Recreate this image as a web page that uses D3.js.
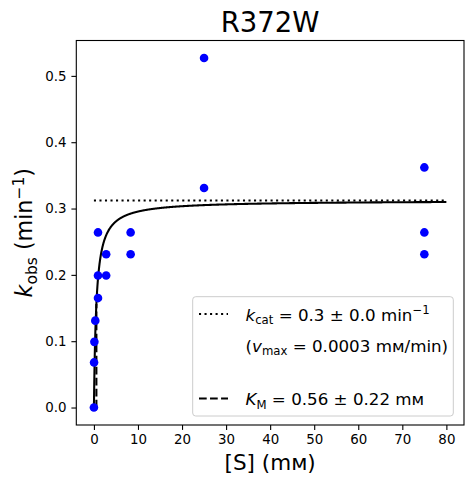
<!DOCTYPE html>
<html>
<head>
<meta charset="utf-8">
<script src="https://cdn.jsdelivr.net/npm/d3@7.9.0/dist/d3.min.js"></script>
<style>
  body { margin: 0; background: #fff; }
  svg { font-family: 'DejaVu Sans', sans-serif; }
</style>
</head>
<body>
<div id="chart"></div>
<script>
// measured substrate concentrations (mM) and observed rates (min^-1)
const substrate = [0, 0.034, 0.103, 0.309, 0.926, 0.926, 0.926, 2.78, 2.78, 8.33, 8.33, 25, 25, 75, 75, 75];
const kobs = [0, 0.068, 0.099, 0.131, 0.165, 0.199, 0.264, 0.199, 0.231, 0.231, 0.264, 0.331, 0.527, 0.231, 0.264, 0.362];

// fitted Michaelis-Menten parameters
const kcat = 0.312;
const km = 0.56;
const fitRange = [0, 80];

const xTicks = [0, 10, 20, 30, 40, 50, 60, 70, 80];
const yTicks = [0, 0.1, 0.2, 0.3, 0.4, 0.5];

const width = 473, height = 484;
const plot = { left: 76.3, right: 464, top: 40.5, bottom: 425 };

const svg = d3.select('#chart').append('svg')
    .attr('width', width)
    .attr('height', height);

const xPad = (d3.max(substrate.concat(fitRange)) - 0) * 0.05;
const xScale = d3.scaleLinear()
    .domain([0 - xPad, 80 + xPad])
    .range([plot.left, plot.right]);

const yMax = d3.max(kobs);
const yPad = yMax * 0.05;
const yScale = d3.scaleLinear()
    .domain([-yPad, yMax + yPad])
    .range([plot.bottom, plot.top]);

const g = svg.append('g');

// clip to axes
svg.append('clipPath').attr('id', 'clip')
    .append('rect')
    .attr('x', plot.left).attr('y', plot.top)
    .attr('width', plot.right - plot.left)
    .attr('height', plot.bottom - plot.top);

const inner = g.append('g').attr('clip-path', 'url(#clip)');

// fit curve
const curveS = d3.range(0, 1001).map(i => fitRange[0] + (fitRange[1] - fitRange[0]) * Math.pow(i / 1000, 2));
const line = d3.line()
    .x(d => xScale(d))
    .y(d => yScale(kcat * d / (km + d)));

inner.append('path')
    .datum(curveS)
    .attr('d', line)
    .attr('fill', 'none')
    .attr('stroke', '#000')
    .attr('stroke-width', 2.08);

// kcat dotted line
inner.append('line')
    .attr('x1', xScale(fitRange[0])).attr('x2', xScale(fitRange[1]))
    .attr('y1', yScale(kcat)).attr('y2', yScale(kcat))
    .attr('stroke', '#000')
    .attr('stroke-width', 2.08)
    .attr('stroke-dasharray', '2.08 3.44');

// Km dashed line
inner.append('line')
    .attr('x1', xScale(km)).attr('x2', xScale(km))
    .attr('y1', yScale(0)).attr('y2', yScale(kcat / 2))
    .attr('stroke', '#000')
    .attr('stroke-width', 2.08)
    .attr('stroke-dasharray', '7.7 3.33');

// data points
inner.append('g')
    .selectAll('circle')
    .data(substrate.map((s, i) => [s, kobs[i]]))
    .join('circle')
    .attr('cx', d => xScale(d[0]))
    .attr('cy', d => yScale(d[1]))
    .attr('r', 4.3)
    .attr('fill', '#0000ff');

// axes
const xAxis = d3.axisBottom(xScale).tickValues(xTicks).tickSize(4.9).tickPadding(4.9).tickFormat(d3.format('d'));
const yAxis = d3.axisLeft(yScale).tickValues(yTicks).tickSize(4.9).tickPadding(4.9).tickFormat(d3.format('.1f'));

const gx = g.append('g').attr('transform', `translate(0,${plot.bottom})`).call(xAxis);
const gy = g.append('g').attr('transform', `translate(${plot.left},0)`).call(yAxis);
[gx, gy].forEach(ax => {
    ax.select('.domain').remove();
    ax.selectAll('line').attr('stroke', '#000').attr('stroke-width', 1.1);
    ax.selectAll('text').attr('font-size', 13.4).attr('fill', '#000')
        .attr('font-family', 'DejaVu Sans');
});

// frame
g.append('rect')
    .attr('x', plot.left).attr('y', plot.top)
    .attr('width', plot.right - plot.left)
    .attr('height', plot.bottom - plot.top)
    .attr('fill', 'none')
    .attr('stroke', '#000')
    .attr('stroke-width', 1.1);

// title
svg.append('text')
    .attr('x', (plot.left + plot.right) / 2)
    .attr('y', 32.3)
    .attr('text-anchor', 'middle')
    .attr('font-size', 27.5)
    .text('R372W');

// x label
svg.append('text')
    .attr('x', (plot.left + plot.right) / 2)
    .attr('y', 469.5)
    .attr('text-anchor', 'middle')
    .attr('font-size', 21.5)
    .text('[S] (mᴍ)');

// y label
const yl = svg.append('text')
    .attr('transform', `translate(32,${(plot.top + plot.bottom) / 2}) rotate(-90)`)
    .attr('text-anchor', 'middle')
    .attr('font-size', 22.2);
yl.append('tspan').attr('font-style', 'italic').text('k');
yl.append('tspan').attr('font-size', 15.5).attr('dy', 4.5).text('obs');
yl.append('tspan').attr('dy', -4.5).text(' (min');
yl.append('tspan').attr('font-size', 15.5).attr('dy', -8).text('−1');
yl.append('tspan').attr('dy', 8).text(')');

// legend
const leg = svg.append('g');
leg.append('rect')
    .attr('x', 192.7).attr('y', 296.7)
    .attr('width', 453.3 - 192.7).attr('height', 416 - 296.7)
    .attr('rx', 3)
    .attr('fill', 'rgba(255,255,255,0.8)')
    .attr('stroke', '#cccccc')
    .attr('stroke-width', 1);

leg.append('line')
    .attr('x1', 199).attr('x2', 228).attr('y1', 314).attr('y2', 314)
    .attr('stroke', '#000').attr('stroke-width', 2.08).attr('stroke-dasharray', '2.08 3.44');
leg.append('line')
    .attr('x1', 199).attr('x2', 228).attr('y1', 398.5).attr('y2', 398.5)
    .attr('stroke', '#000').attr('stroke-width', 2.08).attr('stroke-dasharray', '7.7 3.33');

const fs = 16.7, sub = 11.7;
const t1 = leg.append('text').attr('x', 245.5).attr('y', 320.5).attr('font-size', fs);
t1.append('tspan').attr('font-style', 'italic').text('k');
t1.append('tspan').attr('font-size', sub).attr('dy', 3.5).text('cat');
t1.append('tspan').attr('dy', -3.5).text(' = 0.3 ± 0.0 min');
t1.append('tspan').attr('font-size', sub).attr('dy', -6.5).text('−1');

const t2 = leg.append('text').attr('x', 245.5).attr('y', 351.5).attr('font-size', fs);
t2.append('tspan').text('(');
t2.append('tspan').attr('font-style', 'italic').text('v');
t2.append('tspan').attr('font-size', sub).attr('dy', 3.5).text('max');
t2.append('tspan').attr('dy', -3.5).text(' = 0.0003 mᴍ/min)');

const t3 = leg.append('text').attr('x', 245.5).attr('y', 405).attr('font-size', fs);
t3.append('tspan').attr('font-style', 'italic').text('K');
t3.append('tspan').attr('font-size', sub).attr('dy', 3.5).text('M');
t3.append('tspan').attr('dy', -3.5).text(' = 0.56 ± 0.22 mᴍ');
</script>
</body>
</html>
